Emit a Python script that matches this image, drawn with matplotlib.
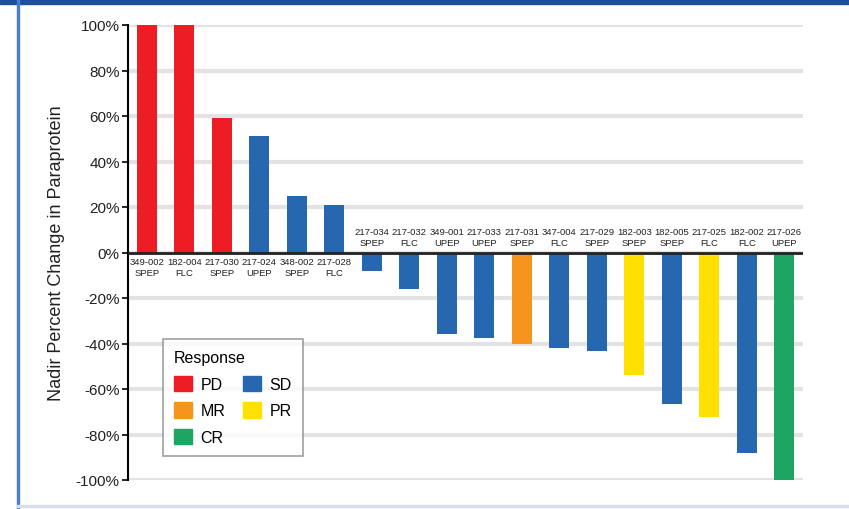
import matplotlib
matplotlib.use("Agg")
import matplotlib.pyplot as plt
from matplotlib.patches import Patch, Rectangle
import numpy as np

plt.rcParams['font.family'] = ['Liberation Sans', 'DejaVu Sans']

# data
patients = ["349-002", "182-004", "217-030", "217-024", "348-002", "217-028",
            "217-034", "217-032", "349-001", "217-033", "217-031", "347-004",
            "217-029", "182-003", "182-005", "217-025", "182-002", "217-026"]
tests = ["SPEP", "FLC", "SPEP", "UPEP", "SPEP", "FLC",
         "SPEP", "FLC", "UPEP", "UPEP", "SPEP", "FLC",
         "SPEP", "SPEP", "SPEP", "FLC", "FLC", "UPEP"]
change = [100, 100, 59, 51, 25, 21,
          -8, -16, -36, -37.5, -40, -42,
          -43.5, -54, -66.5, -72.5, -88, -100]
response = ["PD", "PD", "PD", "SD", "SD", "SD",
            "SD", "SD", "SD", "SD", "MR", "SD",
            "SD", "PR", "SD", "PR", "SD", "CR"]

colors = {"PD": "#ee1c25", "SD": "#2767b0", "MR": "#f7941d",
          "PR": "#ffe000", "CR": "#1ea463"}

fig = plt.figure(figsize=(8.49, 5.10), dpi=100)
ax = fig.add_axes([128 / 849, 1 - 481 / 510, (803 - 128) / 849, (481 - 26) / 510])

x = np.arange(len(patients))
ax.bar(x, change, width=0.53, color=[colors[r] for r in response], zorder=3)

ax.set_xlim(-0.5, len(patients) - 0.5)
ax.set_ylim(-100, 100)
ax.set_yticks(np.arange(-100, 101, 20))
ax.set_yticklabels([f"{v}%" for v in range(-100, 101, 20)], fontsize=11, color="#222222")
ax.yaxis.grid(True, color="#e3e3e3", linewidth=3, zorder=0)
ax.set_xticks([])
ax.tick_params(axis="y", direction="out", length=4, width=1.2, pad=2)
for s in ["top", "right", "bottom"]:
    ax.spines[s].set_visible(False)
ax.spines["left"].set_linewidth(1.5)
ax.axhline(0, color="#222222", linewidth=2, zorder=4)
ax.set_ylabel("Nadir Percent Change in Paraprotein", fontsize=13, labelpad=8, color="#222222")

for i in range(len(patients)):
    lbl = patients[i] + "\n" + tests[i]
    if change[i] > 0:
        ax.text(x[i], -2, lbl, ha="center", va="top", fontsize=6.8, linespacing=1.35,
                color="#222222", zorder=5)
    else:
        ax.text(x[i], 2.2, lbl, ha="center", va="bottom", fontsize=6.8, linespacing=1.35,
                color="#222222", zorder=5)

handles = [Patch(color=colors[k]) for k in ["PD", "MR", "CR", "SD", "PR"]]
labels = ["PD", "MR", "CR", "SD", "PR"]
leg = ax.legend(handles, labels, title="Response", ncol=2, loc="lower left",
                bbox_to_anchor=(35 / 675, 24 / 455), borderaxespad=0,
                fontsize=11.5, title_fontsize=11.5,
                frameon=True, fancybox=False, edgecolor="#888888",
                handlelength=1.1, handleheight=1.1, handletextpad=0.55,
                columnspacing=1.1, borderpad=0.7, labelspacing=0.65)
leg._legend_box.align = "left"
leg.get_frame().set_linewidth(1.2)
leg.set_zorder(6)

# frame decorations
fig.patches.append(Rectangle((0, 1 - 5 / 510), 1, 5 / 510, transform=fig.transFigure,
                             color="#1c4f9c", zorder=0))
fig.patches.append(Rectangle((17 / 849, 0), 2 / 849, 1, transform=fig.transFigure,
                             color="#4a7fd0", zorder=0))
fig.patches.append(Rectangle((17 / 849, 2 / 510), 1, 2 / 510, transform=fig.transFigure,
                             color="#d8dfea", zorder=0))

fig.savefig("out.png", dpi=100)
